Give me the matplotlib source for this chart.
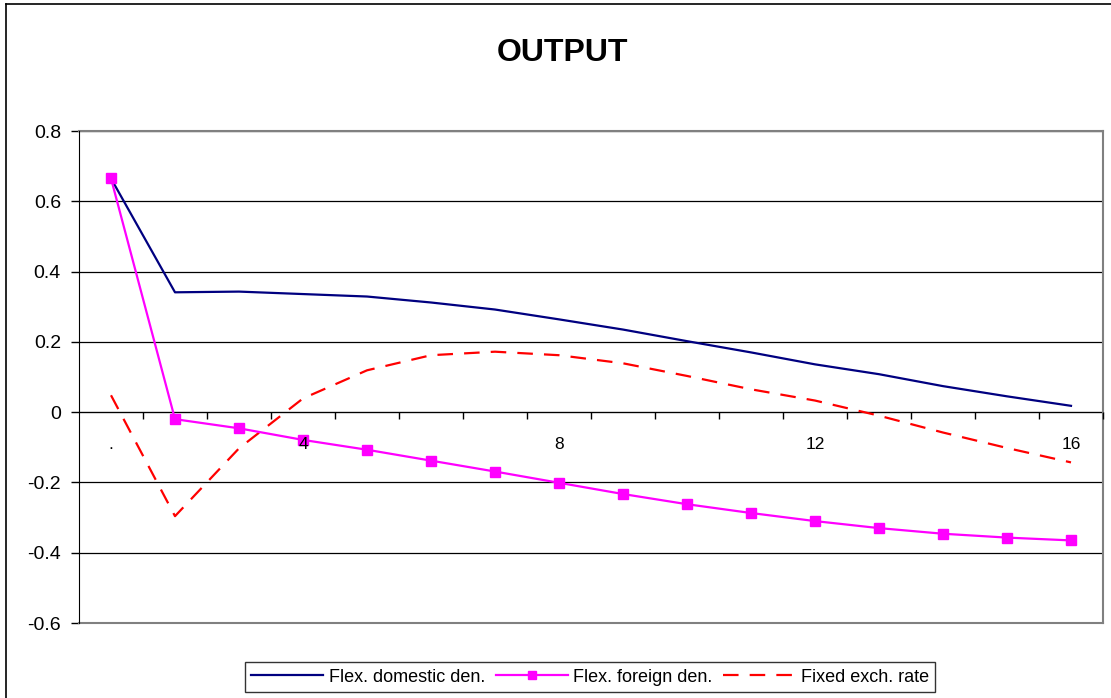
import matplotlib
matplotlib.use('Agg')
import matplotlib.pyplot as plt
from matplotlib.lines import Line2D
from matplotlib.ticker import FixedLocator, NullFormatter

plt.rcParams['font.family'] = ['Liberation Sans', 'DejaVu Sans']

periods = list(range(1, 17))
flex_domestic = [0.665, 0.341, 0.343, 0.336, 0.329, 0.312, 0.292, 0.264,
                 0.235, 0.202, 0.170, 0.136, 0.108, 0.074, 0.045, 0.018]
flex_foreign = [0.665, -0.020, -0.046, -0.079, -0.107, -0.138, -0.169, -0.201,
                -0.233, -0.262, -0.287, -0.310, -0.330, -0.346, -0.357, -0.365]
fixed_exch = [0.048, -0.296, -0.103, 0.039, 0.119, 0.162, 0.172, 0.162,
              0.139, 0.103, 0.065, 0.033, -0.010, -0.058, -0.102, -0.143]
x_labels = {1: '.', 4: '4', 8: '8', 12: '12', 16: '16'}
y_ticks = [-0.6, -0.4, -0.2, 0, 0.2, 0.4, 0.6, 0.8]

W, H = 1111, 698
fig = plt.figure(figsize=(W / 100, H / 100), dpi=100)
fig.patch.set_facecolor('white')
# chart-area frame (Excel style): only top and left edges fall inside the picture
fig.add_artist(Line2D([6 / W, 1], [1 - 4 / H, 1 - 4 / H], color='black', linewidth=1.2))
fig.add_artist(Line2D([6 / W, 6 / W], [0, 1 - 4 / H], color='black', linewidth=1.2))

ax = fig.add_axes([79 / W, 1 - 623 / H, (1103 - 79) / W, (623 - 131) / H])

ax.plot(periods, flex_domestic, color='#000080', linewidth=1.6,
        label='Flex. domestic den.', zorder=3)
ax.plot(periods, flex_foreign, color='#FF00FF', linewidth=1.6, marker='s',
        markersize=6.5, label='Flex. foreign den.', zorder=4)
ax.plot(periods, fixed_exch, color='#FF0000', linewidth=1.6,
        dashes=(7, 5), label='Fixed exch. rate', zorder=3)

ax.set_xlim(0.5, 16.5)
ax.set_ylim(-0.6, 0.8)

# y axis
ax.set_yticks(y_ticks)
ax.set_yticklabels(['-0.6', '-0.4', '-0.2', '0', '0.2', '0.4', '0.6', '0.8'])
ax.tick_params(axis='y', direction='out', length=6, width=1, labelsize=14,
               pad=7, colors='black')
ax.yaxis.grid(True, color='black', linewidth=0.9)
ax.set_axisbelow(True)

# plot-area border (grey) on top and bottom
for yb in (-0.6, 0.8):
    ax.axhline(yb, color='#808080', linewidth=1.5, clip_on=False, zorder=1)

# x axis crossing at zero, ticks between categories, labels above the lines
ax.spines['bottom'].set_position(('data', 0))
ax.spines['bottom'].set_color('black')
ax.spines['bottom'].set_zorder(2)
ax.xaxis.set_major_locator(FixedLocator([p + 0.5 for p in periods]))
ax.xaxis.set_major_formatter(NullFormatter())
ax.xaxis.set_minor_locator(FixedLocator(list(x_labels.keys())))
ax.set_xticklabels(list(x_labels.values()), minor=True)
ax.tick_params(axis='x', which='major', direction='out', length=5, width=1)
ax.tick_params(axis='x', which='minor', length=0, labelsize=12.5, pad=18)
ax.xaxis.set_zorder(5)

ax.spines['top'].set_visible(False)
ax.spines['right'].set_color('#808080')
ax.spines['right'].set_linewidth(1.5)
ax.spines['left'].set_color('black')
ax.spines['left'].set_zorder(3)

fig.text(563 / W, 1 - 53 / H, 'OUTPUT', ha='center', va='center',
         fontsize=23, fontweight='bold')

leg = fig.legend(loc='center', bbox_to_anchor=(590 / W, 1 - 677 / H),
                 ncol=3, fontsize=13, frameon=True, fancybox=False,
                 edgecolor='black', handlelength=4.0, handletextpad=0.3,
                 columnspacing=0.6, borderpad=0.35, markerscale=0.9)
leg.get_frame().set_linewidth(1.0)

fig.savefig('out.png', dpi=100, facecolor='white')
